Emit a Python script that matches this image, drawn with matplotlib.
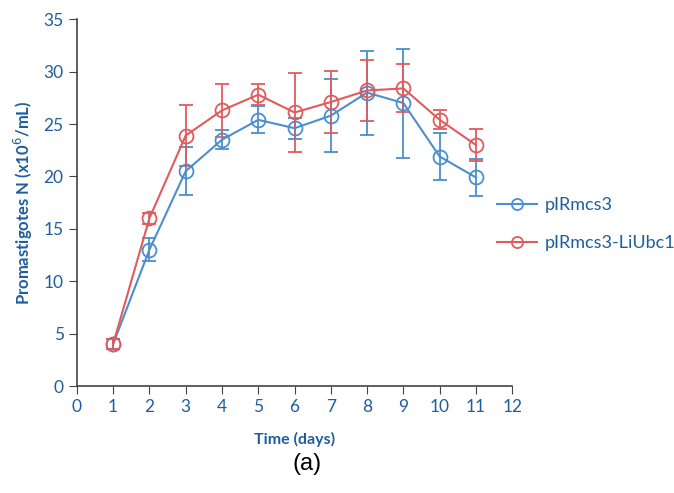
import matplotlib
matplotlib.use("Agg")
import matplotlib.pyplot as plt
from matplotlib.lines import Line2D

days = [1, 2, 3, 4, 5, 6, 7, 8, 9, 10, 11]
ctrl = [4.0, 13.0, 20.5, 23.5, 25.4, 24.6, 25.8, 28.0, 27.0, 21.9, 19.9]
ctrl_err = [0.5, 1.1, 2.3, 0.9, 1.3, 1.0, 3.5, 4.0, 5.2, 2.2, 1.8]
ubc = [4.0, 16.0, 23.9, 26.3, 27.8, 26.1, 27.1, 28.2, 28.4, 25.4, 23.0]
ubc_err = [0.5, 0.5, 2.9, 2.5, 1.0, 3.8, 3.0, 2.9, 2.3, 0.9, 1.5]
labels = ["pIRmcs3", "pIRmcs3-LiUbc1"]

blue = "#4a8fcf"
red = "#e05c5c"
txt = "#1f5e9e"

plt.rcParams["font.family"] = ["Lato", "DejaVu Sans"]

fig = plt.figure(figsize=(6.74, 4.93), dpi=100)
ax = fig.add_axes([0.114, 0.217, 0.646, 0.744])

handles = []
for y, e, c, lab in [(ctrl, ctrl_err, blue, labels[0]), (ubc, ubc_err, red, labels[1])]:
    ax.errorbar(days, y, yerr=e, color=c, marker="o", markersize=10,
                markerfacecolor="none", markeredgewidth=1.3, linewidth=1.5,
                elinewidth=1.3, capsize=5, capthick=1.3)
    handles.append(Line2D([], [], color=c, marker="o", markersize=8,
                          markerfacecolor="none", markeredgewidth=1.3,
                          linewidth=1.5, label=lab))

ax.set_xlim(0, 12)
ax.set_ylim(0, 35)
ax.set_xticks(range(0, 13))
ax.set_yticks(range(0, 36, 5))
for s in ["top", "right"]:
    ax.spines[s].set_visible(False)
for s in ["left", "bottom"]:
    ax.spines[s].set_color("#444444")
    ax.spines[s].set_linewidth(1.2)
ax.tick_params(direction="out", length=6, color="#444444", labelcolor=txt, labelsize=12.5)

ax.set_xlabel("Time (days)", fontsize=11.5, fontweight="bold", color=txt, labelpad=12)
ax.set_ylabel("Promastigotes N (x10$^6$/mL)", fontsize=12, fontweight="bold", color=txt, labelpad=6)

leg = fig.legend(handles=handles, loc="center left", bbox_to_anchor=(0.738, 0.545),
                 frameon=False, fontsize=13, labelspacing=1.2, handlelength=2.2,
                 handletextpad=0.4, borderpad=0, borderaxespad=0)
for t in leg.get_texts():
    t.set_color(txt)

fig.text(0.455, 0.058, "(a)", fontsize=17, family="Liberation Sans", ha="center", va="center")

fig.savefig("out.png", dpi=100)
